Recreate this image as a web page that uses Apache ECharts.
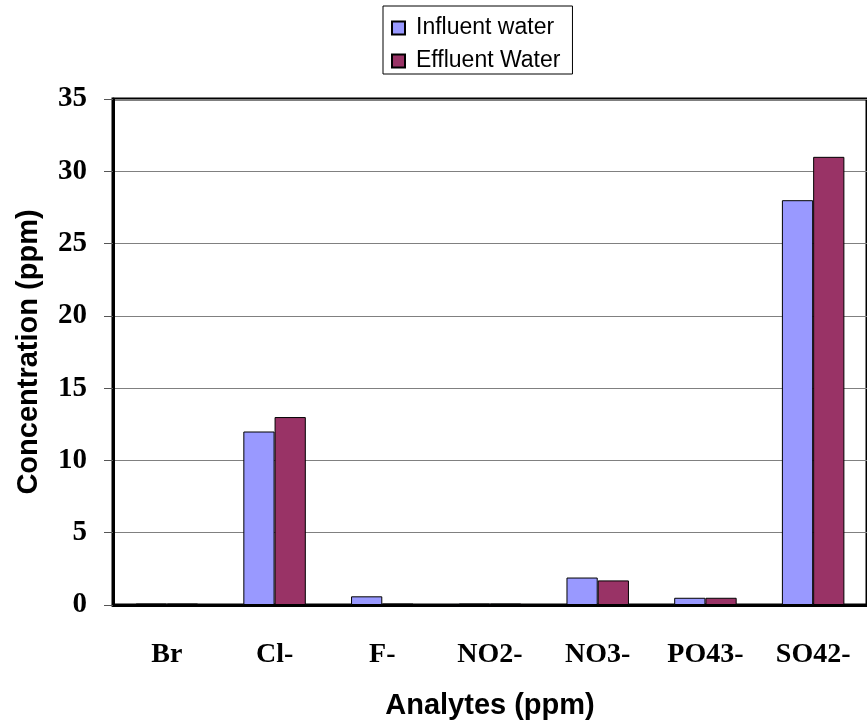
<!DOCTYPE html>
<html>
<head>
<meta charset="utf-8">
<script src="https://cdn.jsdelivr.net/npm/echarts@6/dist/echarts.min.js"></script>
<style>
  html, body { margin: 0; padding: 0; background: #fff; }
  #chart { width: 867px; height: 725px; }
</style>
</head>
<body>
<div id="chart"></div>
<script>
// Anion concentrations measured before and after treatment
const analytes = ['Br', 'Cl-', 'F-', 'NO2-', 'NO3-', 'PO43-', 'SO42-'];
const influent = [0.1, 12, 0.6, 0.1, 1.9, 0.5, 28];
const effluent = [0.1, 13, 0.1, 0.1, 1.7, 0.5, 31];
const yTicks = { min: 0, max: 35, step: 5 };

const chart = echarts.init(document.getElementById('chart'));
const serif = "'Liberation Serif', 'Times New Roman', serif";
const sans = "'Liberation Sans', Arial, sans-serif";

chart.setOption({
  animation: false,
  backgroundColor: '#fff',
  legend: {
    orient: 'vertical',
    left: 383,
    top: 6,
    padding: [10, 12, 1, 8],
    itemGap: 9,
    itemWidth: 13,
    itemHeight: 13,
    icon: 'rect',
    borderColor: '#000',
    borderWidth: 1,
    textStyle: { fontFamily: sans, fontSize: 23, color: '#000', lineHeight: 24, padding: [0, 0, 0, 6] },
    data: ['Influent water', 'Effluent Water']
  },
  grid: {
    left: 113,
    top: 99,
    width: 758,
    height: 507,
    show: true,
    borderColor: '#000',
    borderWidth: 3,
    backgroundColor: 'transparent'
  },
  xAxis: {
    type: 'category',
    data: analytes,
    name: 'Analytes (ppm)',
    nameLocation: 'middle',
    nameGap: 86,
    nameTextStyle: { fontFamily: sans, fontWeight: 'bold', fontSize: 29, color: '#000' },
    axisLine: { lineStyle: { color: '#000', width: 3 } },
    axisTick: { length: 10, lineStyle: { color: '#555', width: 1 } },
    axisLabel: { fontFamily: serif, fontWeight: 'bold', fontSize: 28, color: '#000', margin: 36 }
  },
  yAxis: {
    type: 'value',
    min: yTicks.min,
    max: yTicks.max,
    interval: yTicks.step,
    name: 'Concentration (ppm)',
    nameLocation: 'middle',
    nameGap: 70,
    nameTextStyle: { fontFamily: sans, fontWeight: 'bold', fontSize: 29, color: '#000' },
    axisLine: { show: true, lineStyle: { color: '#000', width: 3 } },
    axisTick: { show: true, length: 9, lineStyle: { color: '#555', width: 1 } },
    axisLabel: { fontFamily: serif, fontWeight: 'bold', fontSize: 29, color: '#000', margin: 26 },
    splitLine: { lineStyle: { color: '#808080', width: 1 } }
  },
  series: [
    {
      name: 'Influent water',
      type: 'bar',
      data: influent,
      barGap: '0%',
      barCategoryGap: '42%',
      itemStyle: { color: '#9999FF', borderColor: '#000', borderWidth: 1 }
    },
    {
      name: 'Effluent Water',
      type: 'bar',
      data: effluent,
      barGap: '0%',
      barCategoryGap: '42%',
      itemStyle: { color: '#993366', borderColor: '#000', borderWidth: 1 }
    }
  ]
});
</script>
</body>
</html>
